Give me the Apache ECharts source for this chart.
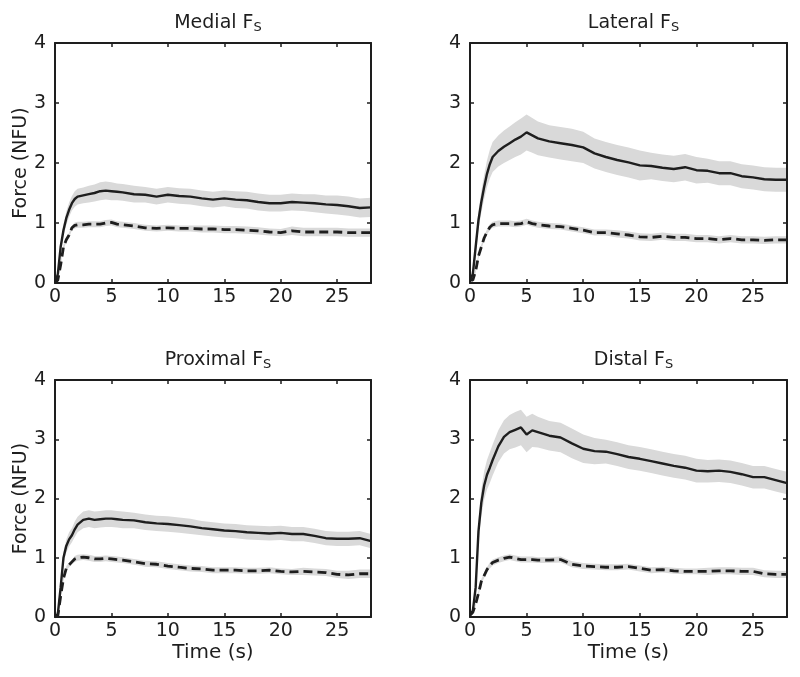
<!DOCTYPE html>
<html><head><meta charset="utf-8">
<script src="https://cdn.jsdelivr.net/npm/echarts@6/dist/echarts.min.js"></script>
<style>html,body{margin:0;padding:0;background:#fff}#c{width:800px;height:677px}</style>
</head><body><div id="c"></div>
<script>
const time = [0,0.25,0.5,0.75,1,1.25,1.5,1.75,2,2.5,3,3.5,4,4.5,5,5.5,6,7,8,9,10,11,12,13,14,15,16,17,18,19,20,21,22,23,24,25,26,27,28];

const panelTitles = ['Medial F', 'Lateral F', 'Proximal F', 'Distal F'];
const titleSub = 'S';
const xTicks = [0,5,10,15,20,25];
const yTicks = [0,1,2,3,4];
const xName = 'Time (s)';
const yName = 'Force (NFU)';

const medialSolid = [0,0.15,0.6,0.88,1.08,1.22,1.33,1.40,1.44,1.46,1.48,1.50,1.53,1.54,1.53,1.52,1.51,1.48,1.47,1.44,1.47,1.45,1.44,1.41,1.39,1.41,1.39,1.38,1.35,1.33,1.33,1.35,1.34,1.33,1.31,1.30,1.28,1.25,1.26];
const medialSolidSd = [0.02,0.04,0.08,0.10,0.11,0.12,0.12,0.13,0.13,0.13,0.14,0.14,0.15,0.15,0.15,0.14,0.14,0.14,0.13,0.13,0.13,0.13,0.13,0.13,0.13,0.13,0.14,0.14,0.14,0.14,0.14,0.14,0.14,0.15,0.15,0.16,0.16,0.16,0.16];
const medialDashed = [0,0.05,0.3,0.6,0.72,0.8,0.92,0.96,0.97,0.97,0.98,0.98,0.98,1.0,1.01,0.98,0.97,0.95,0.92,0.91,0.92,0.91,0.91,0.90,0.90,0.89,0.89,0.88,0.87,0.85,0.84,0.87,0.85,0.85,0.85,0.85,0.84,0.84,0.84];
const medialDashedSd = [0.02,0.02,0.03,0.04,0.04,0.04,0.04,0.05,0.05,0.05,0.05,0.05,0.05,0.05,0.05,0.05,0.05,0.05,0.05,0.05,0.05,0.05,0.05,0.06,0.06,0.06,0.06,0.06,0.06,0.06,0.06,0.07,0.07,0.07,0.07,0.07,0.07,0.07,0.07];

const lateralSolid = [0.05,0.15,0.6,1.05,1.35,1.6,1.82,1.98,2.1,2.2,2.27,2.33,2.39,2.44,2.51,2.46,2.41,2.36,2.33,2.30,2.26,2.16,2.10,2.05,2.01,1.96,1.95,1.92,1.90,1.93,1.88,1.87,1.83,1.83,1.78,1.76,1.73,1.72,1.72];
const lateralSolidSd = [0.05,0.08,0.12,0.15,0.18,0.2,0.22,0.24,0.25,0.26,0.27,0.28,0.29,0.3,0.3,0.29,0.28,0.27,0.27,0.27,0.26,0.25,0.25,0.25,0.25,0.25,0.22,0.22,0.22,0.22,0.22,0.2,0.2,0.2,0.2,0.2,0.2,0.2,0.2];
const lateralDashed = [0.05,0.05,0.2,0.45,0.6,0.75,0.85,0.93,0.97,0.99,0.99,0.99,0.98,0.99,1.02,0.99,0.97,0.95,0.94,0.91,0.88,0.84,0.84,0.82,0.80,0.77,0.76,0.78,0.76,0.76,0.74,0.74,0.72,0.74,0.72,0.72,0.71,0.72,0.72];
const lateralDashedSd = [0.02,0.02,0.03,0.04,0.04,0.04,0.04,0.05,0.05,0.05,0.05,0.05,0.05,0.05,0.05,0.05,0.05,0.05,0.05,0.05,0.05,0.05,0.05,0.06,0.06,0.06,0.06,0.06,0.06,0.06,0.06,0.06,0.06,0.06,0.06,0.06,0.06,0.06,0.06];

const proximalSolid = [0,0.05,0.5,1.0,1.2,1.31,1.38,1.48,1.56,1.64,1.66,1.64,1.65,1.66,1.66,1.65,1.64,1.63,1.60,1.58,1.57,1.55,1.53,1.50,1.48,1.46,1.45,1.43,1.42,1.41,1.42,1.40,1.40,1.37,1.33,1.32,1.32,1.33,1.28];
const proximalSolidSd = [0.02,0.04,0.08,0.10,0.11,0.12,0.12,0.13,0.13,0.14,0.14,0.14,0.14,0.14,0.14,0.14,0.14,0.13,0.13,0.13,0.13,0.13,0.13,0.12,0.12,0.12,0.12,0.12,0.12,0.12,0.12,0.12,0.12,0.12,0.12,0.12,0.12,0.12,0.12];
const proximalDashed = [0,0.02,0.35,0.65,0.82,0.88,0.93,0.98,1.0,1.01,1.0,0.98,0.98,0.99,0.98,0.97,0.96,0.93,0.90,0.89,0.86,0.84,0.82,0.81,0.79,0.79,0.79,0.78,0.78,0.79,0.77,0.76,0.77,0.76,0.75,0.72,0.71,0.73,0.73];
const proximalDashedSd = [0.02,0.02,0.03,0.04,0.04,0.04,0.04,0.05,0.05,0.05,0.05,0.05,0.05,0.05,0.05,0.05,0.05,0.05,0.05,0.05,0.05,0.05,0.05,0.05,0.05,0.05,0.05,0.05,0.05,0.05,0.05,0.05,0.06,0.06,0.06,0.06,0.07,0.07,0.07];

const distalSolid = [0.05,0.1,0.5,1.45,1.93,2.22,2.4,2.52,2.65,2.88,3.04,3.12,3.16,3.2,3.08,3.15,3.12,3.06,3.03,2.93,2.84,2.80,2.79,2.75,2.70,2.67,2.63,2.59,2.55,2.52,2.47,2.46,2.47,2.45,2.41,2.36,2.36,2.31,2.26];
const distalSolidSd = [0.03,0.06,0.12,0.2,0.22,0.24,0.25,0.26,0.26,0.27,0.28,0.29,0.3,0.3,0.3,0.28,0.26,0.25,0.25,0.25,0.24,0.22,0.2,0.2,0.2,0.2,0.2,0.2,0.2,0.2,0.2,0.19,0.19,0.19,0.19,0.19,0.19,0.19,0.19];
const distalDashed = [0.03,0.08,0.22,0.4,0.6,0.7,0.8,0.87,0.92,0.96,0.99,1.01,0.99,0.97,0.97,0.97,0.96,0.96,0.97,0.89,0.86,0.85,0.84,0.84,0.85,0.82,0.79,0.80,0.78,0.77,0.77,0.77,0.78,0.78,0.77,0.77,0.73,0.72,0.72];
const distalDashedSd = [0.02,0.02,0.03,0.04,0.04,0.04,0.04,0.05,0.05,0.05,0.05,0.05,0.05,0.05,0.05,0.05,0.05,0.05,0.05,0.05,0.05,0.05,0.05,0.05,0.05,0.05,0.05,0.05,0.05,0.05,0.05,0.06,0.06,0.06,0.06,0.06,0.06,0.06,0.06];

const panels = [
  {solid: medialSolid, solidSd: medialSolidSd, dashed: medialDashed, dashedSd: medialDashedSd},
  {solid: lateralSolid, solidSd: lateralSolidSd, dashed: lateralDashed, dashedSd: lateralDashedSd},
  {solid: proximalSolid, solidSd: proximalSolidSd, dashed: proximalDashed, dashedSd: proximalDashedSd},
  {solid: distalSolid, solidSd: distalSolidSd, dashed: distalDashed, dashedSd: distalDashedSd}
];

const FONT = 'DejaVu Sans';
const INK = '#1e1e1e';
const BAND = '#d9d9d9';
const grids = [
  {left: 55, top: 43, width: 316, height: 240},
  {left: 470, top: 43, width: 317, height: 240},
  {left: 55, top: 380, width: 316, height: 237},
  {left: 470, top: 380, width: 317, height: 237}
];

const option = {
  animation: false,
  backgroundColor: '#fff',
  textStyle: {fontFamily: FONT},
  grid: grids.map(g => Object.assign({show: false, containLabel: false}, g)),
  title: grids.map((g, i) => ({
    text: '{a|' + panelTitles[i] + '}{s|' + titleSub + '}',
    left: g.left + g.width / 2,
    top: g.top - 37,
    textAlign: 'center',
    textStyle: {fontWeight: 'normal', rich: {
      a: {fontFamily: FONT, fontSize: 19, fontWeight: 'normal', color: INK, lineHeight: 24},
      s: {fontFamily: FONT, fontSize: 13, fontWeight: 'normal', color: INK, padding: [10, 0, 0, 0], lineHeight: 24}
    }}
  })),
  xAxis: [],
  yAxis: [],
  series: [],
  graphic: []
};

const tickStyle = {show: true, inside: true, length: 4, lineStyle: {color: INK, width: 1.5}};
const lineStyleAxis = {show: true, onZero: false, lineStyle: {color: INK, width: 2}};
grids.forEach((g, i) => {
  option.xAxis.push({
    type: 'value', gridIndex: i, min: 0, max: 28, interval: 5, position: 'bottom', z: 10,
    axisLine: lineStyleAxis, axisTick: tickStyle, splitLine: {show: false},
    axisLabel: {show: true, fontFamily: FONT, fontSize: 19, color: INK, margin: 5, showMaxLabel: false,
      formatter: v => xTicks.includes(v) ? String(v) : ''}
  });
  option.xAxis.push({
    type: 'value', gridIndex: i, min: 0, max: 28, interval: 5, position: 'top', z: 10,
    axisLine: lineStyleAxis, axisTick: tickStyle, splitLine: {show: false}, axisLabel: {show: false}
  });
  option.yAxis.push({
    type: 'value', gridIndex: i, min: 0, max: 4, interval: 1, position: 'left', z: 10,
    axisLine: lineStyleAxis, axisTick: tickStyle, splitLine: {show: false},
    axisLabel: {show: true, fontFamily: FONT, fontSize: 19, color: INK, margin: 9,
      formatter: v => yTicks.includes(v) ? String(v) : ''}
  });
  option.yAxis.push({
    type: 'value', gridIndex: i, min: 0, max: 4, interval: 1, position: 'right', z: 10,
    axisLine: lineStyleAxis, axisTick: tickStyle, splitLine: {show: false}, axisLabel: {show: false}
  });

  const p = panels[i];
  const xi = i * 2, yi = i * 2;
  const addBand = (mean, sd) => {
    option.series.push({
      type: 'custom', xAxisIndex: xi, yAxisIndex: yi, silent: true, z: 1, clip: true,
      data: [[0]],
      renderItem: (params, api) => {
        const pts = [];
        for (let k = 0; k < time.length; k++) pts.push(api.coord([time[k], mean[k] + sd[k]]));
        for (let k = time.length - 1; k >= 0; k--) pts.push(api.coord([time[k], Math.max(0, mean[k] - sd[k])]));
        return {type: 'polygon', shape: {points: pts}, style: {fill: BAND, stroke: null}};
      }
    });
  };
  addBand(p.solid, p.solidSd);
  addBand(p.dashed, p.dashedSd);
  option.series.push({
    type: 'line', xAxisIndex: xi, yAxisIndex: yi, symbol: 'none', z: 3,
    lineStyle: {color: INK, width: 2.4}, data: time.map((t, k) => [t, p.solid[k]])
  });
  option.series.push({
    type: 'line', xAxisIndex: xi, yAxisIndex: yi, symbol: 'none', z: 3,
    lineStyle: {color: INK, width: 2.8, type: [9, 5]}, data: time.map((t, k) => [t, p.dashed[k]])
  });

  if (i === 0 || i === 2) {
    option.graphic.push({
      type: 'text', x: 21, y: g.top + g.height / 2, rotation: Math.PI / 2,
      style: {text: yName, fontFamily: FONT, fontSize: 19, fill: INK, align: 'center', verticalAlign: 'middle'}
    });
  }
  if (i >= 2) {
    option.graphic.push({
      type: 'text', x: g.left + g.width / 2, y: 653,
      style: {text: xName, fontFamily: FONT, fontSize: 20, fill: INK, align: 'center', verticalAlign: 'middle'}
    });
  }
});

const chart = echarts.init(document.getElementById('c'), null, {renderer: 'canvas'});
chart.setOption(option);
</script>
</body></html>
